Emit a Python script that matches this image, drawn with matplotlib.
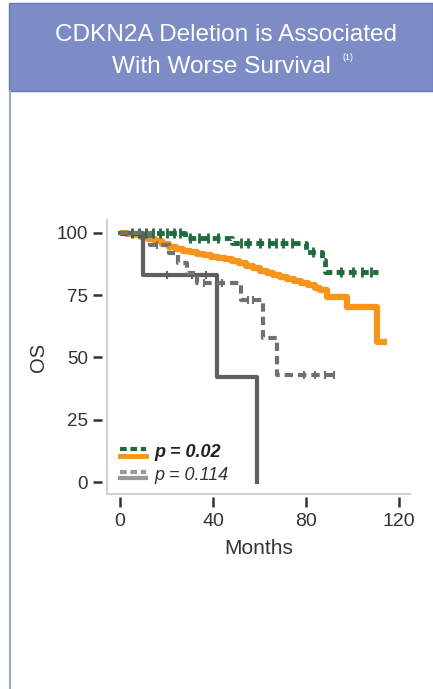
import matplotlib
matplotlib.use("Agg")
import matplotlib.pyplot as plt
from matplotlib.patches import Rectangle
from matplotlib.lines import Line2D

plt.rcParams['font.family'] = ['Liberation Sans', 'DejaVu Sans']

# KM curves (months, OS %)
green_t = [0, 28, 48, 80, 87, 88, 111]
green_s = [100, 98, 96, 92.4, 89, 84.3, 84.3]
green_cens = [5, 8, 11, 14, 17, 20, 23, 26, 30, 34, 38, 42, 52, 55, 60, 64, 67, 70, 74, 83, 95, 100, 104, 108]

orange_t = [0, 3, 6, 9, 12, 15, 18, 21, 24, 27, 30, 33, 36, 39, 42, 45, 48, 51, 54, 57,
            60, 63, 66, 69, 72, 75, 78, 81, 84, 86, 89, 97.6, 110.5, 115]
orange_s = [100, 99.6, 99, 98.3, 97.6, 96.6, 95.5, 94.4, 93.6, 92.8, 92.2, 91.6, 91, 90.4,
            89.9, 89.4, 88.8, 87.8, 86.8, 85.8, 84.8, 84, 83.2, 82.4, 81.6, 80.7, 80, 79,
            78, 77, 74.3, 70.3, 56.2, 56.2]

gdash_t = [0, 13, 21, 25, 29, 33, 52, 61.5, 67.5, 92]
gdash_s = [100, 95, 92, 88, 84, 80, 73, 58, 43, 43]
gdash_cens = [16, 36, 44, 55, 57, 79, 84, 88, 92]

gsolid_t = [0, 10, 41.5, 59]
gsolid_s = [100, 83, 42, 0]
gsolid_cens = [20, 31, 37]

xticks = [0, 40, 80, 120]
yticks = [0, 25, 50, 75, 100]

GREEN = '#1f6b3c'
ORANGE = '#f7941d'
GRAY = '#5f5f5f'
GRAY2 = '#707070'


def surv_at(ts, ss, t):
    v = ss[0]
    for a, b in zip(ts, ss):
        if a <= t:
            v = b
    return v


fig = plt.figure(figsize=(4.33, 6.89), dpi=100)

# header band and left frame line
fig.patches.append(Rectangle((9/433, 1 - 91/689), 1 - 9/433, 88/689, transform=fig.transFigure,
                             facecolor='#7d8cc5', edgecolor='#6676b3', lw=1))
fig.add_artist(Line2D([9.5/433, 9.5/433], [0, 1 - 91/689], transform=fig.transFigure,
                      color='#9aa6c2', lw=1.5))
fig.text(0.522, 1 - 35/689, 'CDKN2A Deletion is Associated', color='white',
         fontsize=17.6, ha='center', va='center')
fig.text(0.512, 1 - 67/689, 'With Worse Survival', color='white',
         fontsize=17.6, ha='center', va='center')
fig.text(0.790, 1 - 57/689, '(1)', color='white', fontsize=6.5, ha='left', va='center')

ax = fig.add_axes([107/433, 195/689, 303/433, 274/689])

ax.step(orange_t, orange_s, where='post', color=ORANGE, lw=4.5, solid_capstyle='butt')
ax.step(green_t, green_s, where='post', color=GREEN, lw=3.5, ls=(0, (1.6, 0.9)))
ax.plot(green_cens, [surv_at(green_t, green_s, t) for t in green_cens], ls='none',
        marker='|', ms=7, mew=2, color=GREEN)
ax.step(gsolid_t, gsolid_s, where='post', color=GRAY, lw=3)
ax.plot(gsolid_cens, [surv_at(gsolid_t, gsolid_s, t) for t in gsolid_cens], ls='none',
        marker='|', ms=6, mew=1.5, color=GRAY)
ax.step(gdash_t, gdash_s, where='post', color=GRAY2, lw=3, ls=(0, (2, 1.2)))
ax.plot(gdash_cens, [surv_at(gdash_t, gdash_s, t) for t in gdash_cens], ls='none',
        marker='|', ms=6, mew=1.5, color=GRAY2)

ax.set_xlim(-5.6, 124.7)
ax.set_ylim(-4.8, 105.2)
ax.set_xticks(xticks)
ax.set_yticks(yticks)

for s in ['top', 'right']:
    ax.spines[s].set_visible(False)
ax.spines['left'].set_position(('outward', 3.6))
ax.spines['bottom'].set_position(('outward', 2.5))
ax.spines['left'].set_color('none')
ax.spines['bottom'].set_color('none')
ax.plot([0, 0], [0, 1], transform=ax.transAxes, color='#d0d0d0', lw=1.5, clip_on=False)
ax.plot([0, 1], [0, 0], transform=ax.transAxes, color='#d0d0d0', lw=1.5, clip_on=False)

ax.tick_params(axis='y', direction='out', length=6.5, width=1.8, color='#333333',
               labelsize=13.5, labelcolor='#333333', pad=3.6)
ax.tick_params(axis='x', direction='out', length=7, width=1.8, color='#333333',
               labelsize=14, labelcolor='#333333', pad=4.5)
ax.set_xlabel('Months', fontsize=15, color='#333333', labelpad=6)
ax.set_ylabel('OS', fontsize=14.5, color='#333333', labelpad=6)

# legend drawn by hand: dashed over solid
ax.plot([0.043, 0.129], [0.164, 0.164], transform=ax.transAxes, color=GREEN, lw=3, ls=(0, (1.6, 0.9)))
ax.plot([0.043, 0.129], [0.139, 0.139], transform=ax.transAxes, color=ORANGE, lw=3.5)
ax.plot([0.043, 0.129], [0.080, 0.080], transform=ax.transAxes, color='#999999', lw=3, ls=(0, (1.6, 0.9)))
ax.plot([0.043, 0.129], [0.060, 0.060], transform=ax.transAxes, color='#999999', lw=3)
ax.text(0.158, 0.150, 'p = 0.02', transform=ax.transAxes, fontsize=13, fontweight='bold',
        style='italic', color='#222222', va='center')
ax.text(0.158, 0.069, 'p = 0.114', transform=ax.transAxes, fontsize=13,
        style='italic', color='#333333', va='center')

fig.savefig('out.png', dpi=100)
